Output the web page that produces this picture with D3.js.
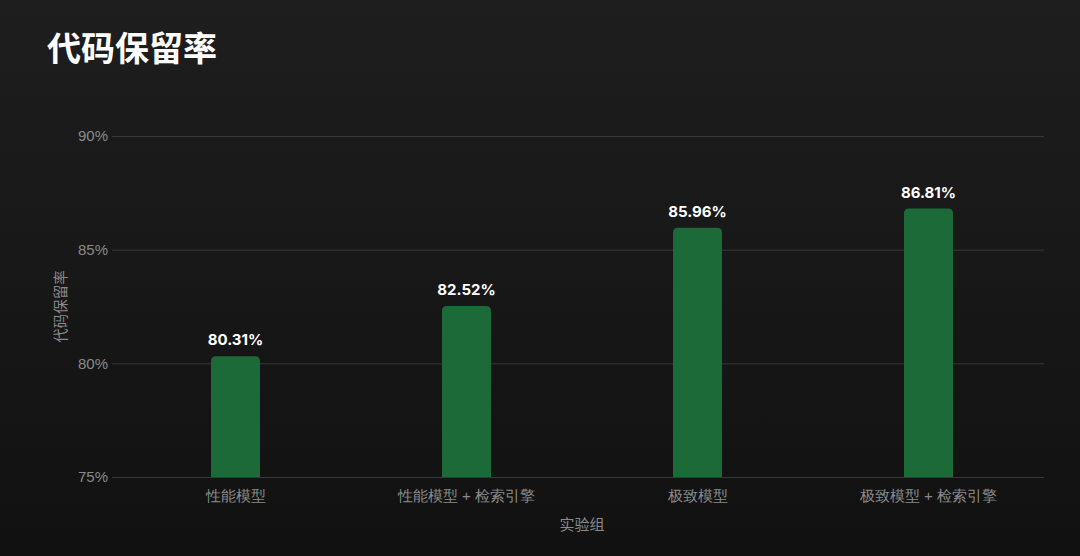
<!DOCTYPE html>
<html>
<head>
<meta charset="utf-8">
<style>
  html, body { margin: 0; padding: 0; background: #151515; }
  svg { display: block; font-family: "Noto Sans CJK SC", "Noto Sans", sans-serif; }
  .grid line { stroke: #383838; stroke-width: 1; }
  .grid .domain { display: none; }
  .y .tick text, .x .tick text { fill: #8a8a8a; font-size: 15px; }
  .x .domain, .y .domain { display: none; }
  .x .tick line, .y .tick line { display: none; }
</style>
</head>
<body>
<svg width="1080" height="556"></svg>
<script src="https://d3js.org/d3.v7.min.js"></script>
<script>
// data
let groups = ["性能模型", "性能模型 + 检索引擎", "极致模型", "极致模型 + 检索引擎"];
let retention = [80.31, 82.52, 85.96, 86.81];
let yTicks = [75, 80, 85, 90];

let width = 1080, height = 556;
let margin = { top: 136, right: 36, bottom: 79, left: 120 };

let svg = d3.select("svg");

// background gradient
let defs = svg.append("defs");
let grad = defs.append("linearGradient")
  .attr("id", "bg").attr("x1", 0).attr("y1", 0).attr("x2", 0).attr("y2", 1);
grad.append("stop").attr("offset", "0%").attr("stop-color", "#1e1e1e");
grad.append("stop").attr("offset", "100%").attr("stop-color", "#111111");
svg.append("rect").attr("width", width).attr("height", height).attr("fill", "url(#bg)");

let data = groups.map((g, i) => ({ group: g, value: retention[i] }));

let x = d3.scaleBand()
  .domain(groups)
  .range([margin.left, width - margin.right])
  .padding(0);

let y = d3.scaleLinear()
  .domain([75, 90])
  .range([height - margin.bottom, margin.top]);

// gridlines
svg.append("g")
  .attr("class", "grid")
  .attr("transform", `translate(${margin.left - 8},0)`)
  .call(d3.axisLeft(y).tickValues(yTicks).tickSize(-(width - margin.right - margin.left + 8)).tickFormat(""));

// y axis labels
svg.append("g")
  .attr("class", "y axis")
  .attr("transform", `translate(${margin.left},0)`)
  .call(d3.axisLeft(y).tickValues(yTicks).tickSize(0).tickPadding(12).tickFormat(d => d + "%"));

// x axis labels
svg.append("g")
  .attr("class", "x axis")
  .attr("transform", `translate(0,${height - margin.bottom})`)
  .call(d3.axisBottom(x).tickSize(0).tickPadding(13));

// bars with rounded top corners
let barW = 49, r = 5;
function barPath(d) {
  let cx = x(d.group) + x.bandwidth() / 2;
  let x0 = cx - barW / 2, x1 = cx + barW / 2;
  let yt = y(d.value), yb = y(75);
  return `M${x0},${yb} L${x0},${yt + r} Q${x0},${yt} ${x0 + r},${yt} L${x1 - r},${yt} Q${x1},${yt} ${x1},${yt + r} L${x1},${yb} Z`;
}

svg.append("g")
  .selectAll("path")
  .data(data)
  .join("path")
  .attr("d", barPath)
  .attr("fill", "#1b6a38");

// value labels
svg.append("g")
  .selectAll("text")
  .data(data)
  .join("text")
  .attr("x", d => x(d.group) + x.bandwidth() / 2)
  .attr("y", d => y(d.value) - 11)
  .attr("text-anchor", "middle")
  .attr("fill", "#ffffff")
  .style("font-family", "Inter, 'Noto Sans', sans-serif")
  .style("font-size", "15px")
  .style("font-weight", 700)
  .text(d => d.value.toFixed(2) + "%");

// title
svg.append("text")
  .attr("x", 47)
  .attr("y", 61)
  .attr("fill", "#ffffff")
  .style("font-size", "34px")
  .style("font-weight", 700)
  .text("代码保留率");

// y axis title
svg.append("text")
  .attr("transform", `translate(66,${(margin.top + height - margin.bottom) / 2}) rotate(-90)`)
  .attr("text-anchor", "middle")
  .attr("fill", "#8a8a8a")
  .style("font-size", "14.5px")
  .text("代码保留率");

// x axis title
svg.append("text")
  .attr("x", (margin.left + width - margin.right) / 2)
  .attr("y", 530)
  .attr("text-anchor", "middle")
  .attr("fill", "#8a8a8a")
  .style("font-size", "15px")
  .text("实验组");
</script>
</body>
</html>
